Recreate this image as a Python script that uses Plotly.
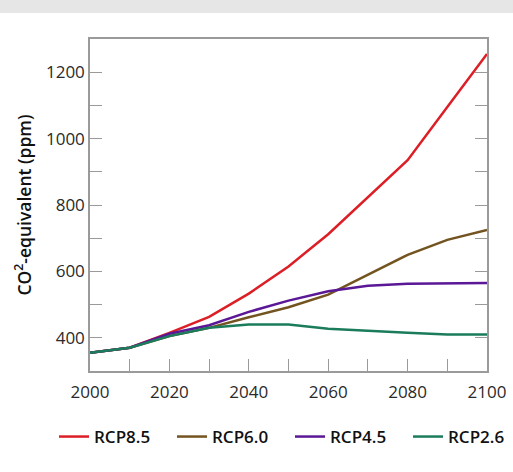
import plotly.graph_objects as go

years = [2000, 2010, 2020, 2030, 2040, 2050, 2060, 2070, 2080, 2090, 2100]
rcp85 = [355, 370, 415, 463, 533, 615, 712, 822, 935, 1095, 1255]
rcp60 = [355, 370, 405, 430, 462, 492, 530, 590, 650, 695, 725]
rcp45 = [355, 370, 412, 438, 478, 512, 540, 557, 563, 565, 565]
rcp26 = [355, 370, 405, 430, 440, 440, 427, 420, 415, 410, 410]
names = ["RCP8.5", "RCP6.0", "RCP4.5", "RCP2.6"]
colors = ["#dc1f26", "#735420", "#5a1796", "#1b7c5c"]
legend_ids = ["legend", "legend", "legend", "legend2"]

x_tickvals = list(range(2000, 2101, 10))
x_ticktext = [str(v) if v % 20 == 0 else "" for v in x_tickvals]
y_tickvals = list(range(400, 1201, 100))
y_ticktext = [str(v) if v % 200 == 0 else "" for v in y_tickvals]

fig = go.Figure()
for name, vals, col, lg in zip(names, [rcp85, rcp60, rcp45, rcp26], colors, legend_ids):
    fig.add_trace(go.Scatter(x=years, y=vals, mode="lines", name=name, legend=lg,
                             line=dict(color=col, width=2.5)))

fig.add_shape(type="rect", xref="paper", yref="paper", x0=-0.3, x1=1.2,
              y0=1.0 + (39 - 13) / 332, y1=1.2, fillcolor="#e6e6e6",
              line=dict(width=0), layer="below")

PW = 397.0
legend_common = dict(orientation="h", xanchor="left",
                     y=-(437 - 371) / 332, yanchor="middle",
                     font=dict(size=17, color="#111111", weight=600), itemwidth=30,
                     entrywidth=73, entrywidthmode="pixels",
                     traceorder="normal", bgcolor="rgba(0,0,0,0)")

fig.update_layout(
    width=513, height=472,
    margin=dict(l=90, r=26, t=39, b=101, autoexpand=False),
    paper_bgcolor="white", plot_bgcolor="white",
    font=dict(family="Open Sans", size=17, color="#2a2a2a"),
    showlegend=True,
    legend=dict(x=(54 - 90) / PW, **legend_common),
    legend2=dict(x=(408 - 90) / PW, **legend_common),
    xaxis=dict(range=[2000, 2100], tickvals=x_tickvals, ticktext=x_ticktext,
               ticks="inside", ticklen=12, tickcolor="#9a9a9a", tickwidth=1.3,
               showline=True, linecolor="#9a9a9a", linewidth=1.5, mirror=True,
               showgrid=False, zeroline=False, tickfont=dict(size=17),
               ticklabelstandoff=5),
    yaxis=dict(range=[300, 1300], tickvals=y_tickvals, ticktext=y_ticktext,
               ticks="inside", ticklen=12, tickcolor="#9a9a9a", tickwidth=1.3,
               showline=True, linecolor="#9a9a9a", linewidth=1.5, mirror="ticks",
               showgrid=False, zeroline=False, tickfont=dict(size=17),
               title=dict(text="CO<sup>2</sup>-equivalent (ppm)",
                          font=dict(size=17.5, color="#111111", weight=600),
                          standoff=10)),
)

fig.write_html("out.html", post_script="document.body.style.margin='0';",
               config={"displayModeBar": False})
